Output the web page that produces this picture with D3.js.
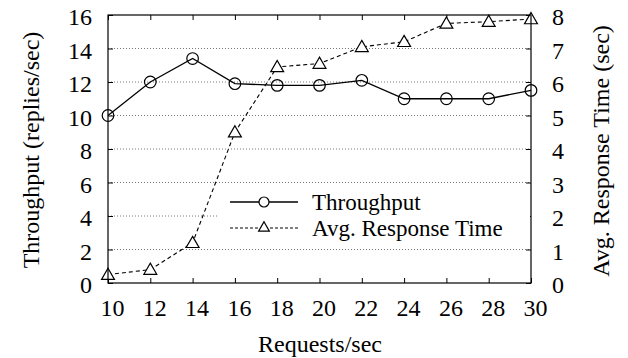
<!DOCTYPE html>
<html><head><meta charset="utf-8">
<script src="https://cdn.jsdelivr.net/npm/d3@7"></script>
<style>
html,body{margin:0;padding:0;background:#fff;}
text{font-family:"Liberation Serif","Times New Roman",serif;fill:#000;}
</style></head>
<body><svg id="c" width="628" height="358"></svg>
<script>
const requests = [10,12,14,16,18,20,22,24,26,28,30];
const throughput = [10,12,13.4,11.9,11.8,11.8,12.1,11,11,11,11.5];
const responseTime = [0.25,0.4,1.2,4.5,6.45,6.55,7.05,7.2,7.75,7.8,7.88];
const xTicks = [10,12,14,16,18,20,22,24,26,28,30];
const leftTicks = [0,2,4,6,8,10,12,14,16];
const rightTicks = [0,1,2,3,4,5,6,7,8];
const seriesNames = ["Throughput","Avg. Response Time"];

const L=108,R=531,T=15,B=283;
const svg=d3.select("#c");
const x=d3.scaleLinear().domain([10,30]).range([L,R]);
const yL=d3.scaleLinear().domain([0,16]).range([B,T]);
const yR=d3.scaleLinear().domain([0,8]).range([B,T]);
const fs=24;

// grid
svg.append("g").selectAll("line").data(leftTicks.filter(d=>d>0&&d<16)).join("line")
 .attr("x1",L).attr("x2",R).attr("y1",d=>yL(d)).attr("y2",d=>yL(d))
 .attr("stroke","#555").attr("stroke-width",0.8).attr("stroke-dasharray","1,2");

// axes with inward ticks
const ax=svg.append("g");
const gb=ax.append("g").attr("transform",`translate(0,${B})`).call(d3.axisBottom(x).tickValues(xTicks).tickSizeInner(-5).tickSizeOuter(0).tickPadding(16));
gb.selectAll("text").attr("dx",4);
ax.append("g").attr("transform",`translate(0,${T})`).call(d3.axisTop(x).tickValues(xTicks).tickSizeInner(-5).tickSizeOuter(0).tickFormat(""));
const gl=ax.append("g").attr("transform",`translate(${L},0)`).call(d3.axisLeft(yL).tickValues(leftTicks).tickSizeInner(-5).tickSizeOuter(0).tickPadding(16));
gl.selectAll("text").attr("dy","0.4em");
const gr=ax.append("g").attr("transform",`translate(${R},0)`).call(d3.axisRight(yR).tickValues(rightTicks).tickSizeInner(-5).tickSizeOuter(0).tickPadding(21));
gr.selectAll("text").attr("dy","0.4em");
ax.selectAll("path.domain").remove();
ax.selectAll("line").attr("stroke","#000").attr("stroke-width",1);
ax.selectAll("text").attr("font-size",fs).attr("font-family","Liberation Serif").attr("fill","#000");

// legend opaque background
svg.append("rect").attr("x",218).attr("y",189).attr("width",R-218-1).attr("height",53).attr("fill","#fff");

// lines
const lineT=d3.line().x((d,i)=>x(requests[i])).y(d=>yL(d));
const lineR=d3.line().x((d,i)=>x(requests[i])).y(d=>yR(d));
svg.append("path").attr("d",lineR(responseTime)).attr("fill","none").attr("stroke","#000").attr("stroke-width",1.1).attr("stroke-dasharray","4,3");
svg.append("path").attr("d",lineT(throughput)).attr("fill","none").attr("stroke","#000").attr("stroke-width",1.3);

const tri=d3.symbol().type(d3.symbolTriangle).size(72);
svg.append("g").selectAll("path").data(responseTime).join("path")
 .attr("d",tri).attr("transform",(d,i)=>`translate(${x(requests[i])},${yR(d)+1})`)
 .attr("fill","#fff").attr("stroke","#000").attr("stroke-width",1.2);
svg.append("g").selectAll("circle").data(throughput).join("circle")
 .attr("cx",(d,i)=>x(requests[i])).attr("cy",d=>yL(d)).attr("r",5.8)
 .attr("fill","none").attr("stroke","#000").attr("stroke-width",1.2);

// frame
svg.append("rect").attr("x",L).attr("y",T).attr("width",R-L).attr("height",B-T).attr("fill","none").attr("stroke","#000").attr("stroke-width",1.2);

// legend
const lfs=23;
const lg=svg.append("g");
lg.append("line").attr("x1",230).attr("x2",298).attr("y1",202).attr("y2",202).attr("stroke","#000").attr("stroke-width",1.3);
lg.append("circle").attr("cx",264).attr("cy",202).attr("r",5).attr("fill","#fff").attr("stroke","#000").attr("stroke-width",1.2);
lg.append("line").attr("x1",230).attr("x2",298).attr("y1",228).attr("y2",228).attr("stroke","#000").attr("stroke-width",1).attr("stroke-dasharray","3,2");
lg.append("path").attr("d",d3.symbol().type(d3.symbolTriangle).size(50)).attr("transform","translate(264,228)").attr("fill","#fff").attr("stroke","#000").attr("stroke-width",1.2);
lg.append("text").attr("x",312).attr("y",209.5).attr("font-size",lfs).text(seriesNames[0]);
lg.append("text").attr("x",312).attr("y",236).attr("font-size",lfs).text(seriesNames[1]);

// axis titles
svg.append("text").attr("transform","translate(39,150) rotate(-90)").attr("text-anchor","middle").attr("font-size",fs).text("Throughput (replies/sec)");
svg.append("text").attr("transform","translate(609,151) rotate(-90)").attr("text-anchor","middle").attr("font-size",fs).text("Avg. Response Time (sec)");
svg.append("text").attr("x",320).attr("y",352).attr("text-anchor","middle").attr("font-size",fs).text("Requests/sec");
</script></body></html>
